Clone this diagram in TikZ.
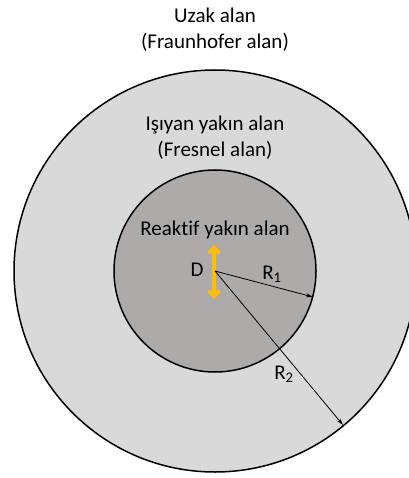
\documentclass[tikz,border=0pt]{standalone}
\usepackage{fontspec}
\setmainfont{Carlito}[Ligatures=NoCommon]
\usetikzlibrary{positioning,arrows.meta}
\definecolor{farfill}{HTML}{D9D9D9}
\definecolor{nearfill}{HTML}{AEAAAA}
\definecolor{dorange}{HTML}{FFC000}

\begin{document}
\begin{tikzpicture}[x=1pt, y=-1pt, font=\fontsize{21}{26}\selectfont,
    zone/.style={align=center, inner sep=0pt},
    radius arrow/.style={-{Stealth[length=7pt,width=4pt]}, line width=0.8pt}]
    \useasboundingbox (0,0) rectangle (408,478);

    % Far field
    \node[zone] (far) at (215,30) {Uzak alan\\(Fraunhofer alan)};

    % Fresnel region
    \draw[line width=1.5pt, fill=farfill] (215,271) circle[radius=201pt];
    \node[zone] (fresnel) at (215,138) {Işıyan yakın alan\\(Fresnel alan)};

    % Reactive near field
    \draw[line width=1.5pt, fill=nearfill] (215,271) circle[radius=101pt];
    \node[zone] (reactive) at (215,230) {Reaktif yakın alan};

    \coordinate (src) at (215,271);
    \coordinate (r1end) at (313,297);
    \coordinate (r2end) at (343,425);
    \coordinate (dtop) at (214,245);
    \coordinate (dbot) at (214,299);

    % Antenna size D
    \draw[dorange, line width=3.2pt, {Straight Barb[length=6pt,width=11pt]}-{Straight Barb[length=6pt,width=11pt]}] (dtop) -- (dbot);
    \node (dlabel) at (197,270) {D};

    % Radii
    \draw[radius arrow] (src) -- (r1end);
    \node (r1) at (272,274) {R\textsubscript{1}};
    \draw[radius arrow] (src) -- (r2end);
    \node (r2) at (284,374) {R\textsubscript{2}};
\end{tikzpicture}
\end{document}
